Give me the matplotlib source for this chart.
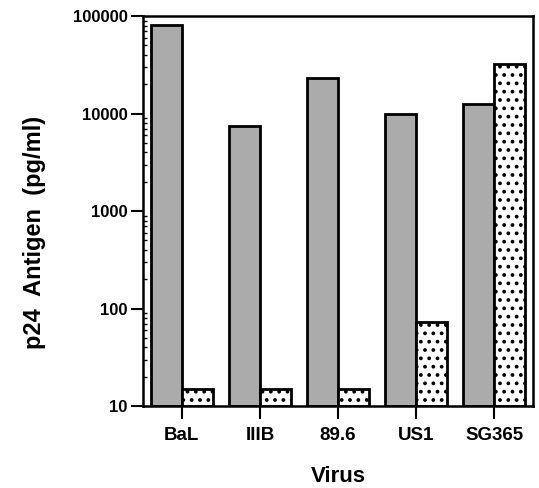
import matplotlib
matplotlib.use('Agg')
import matplotlib.pyplot as plt
import numpy as np
from matplotlib.ticker import LogLocator, NullFormatter

plt.rcParams['font.family'] = ['Liberation Sans', 'DejaVu Sans']
plt.rcParams['font.weight'] = 'bold'
plt.rcParams['axes.labelweight'] = 'bold'
plt.rcParams['hatch.linewidth'] = 1.5

# data
viruses = ['BaL', 'IIIB', '89.6', 'US1', 'SG365']
gray_vals = [82000, 7500, 23000, 9800, 12500]
dot_vals = [15, 15, 15, 73, 32000]

fig = plt.figure(figsize=(5.39, 4.88), dpi=100)
ax = fig.add_axes([0.265, 0.168, 0.724, 0.799])

x = np.arange(len(viruses))
w = 0.4
ax.bar(x - w / 2, gray_vals, width=w, bottom=10, color='#ababab',
       edgecolor='black', linewidth=2, zorder=2)
ax.bar(x + w / 2, np.array(dot_vals) - 10, width=w, bottom=10, color='white',
       edgecolor='black', linewidth=2, hatch='..', zorder=2)

ax.set_yscale('log')
ax.set_ylim(10, 100000)
ax.set_xlim(-0.5, 4.5)
ax.set_yticks([10, 100, 1000, 10000, 100000])
ax.set_yticklabels(['10', '100', '1000', '10000', '100000'])
ax.yaxis.set_minor_locator(LogLocator(base=10, subs=np.arange(2, 10)))
ax.yaxis.set_minor_formatter(NullFormatter())
ax.set_xticks(x)
ax.set_xticklabels(viruses)

ax.tick_params(axis='y', which='major', direction='out', length=9, width=1.5,
               labelsize=12, pad=2)
ax.tick_params(axis='y', which='minor', direction='in', length=3, width=1)
ax.tick_params(axis='x', direction='out', length=9, width=1.5, labelsize=13.5, pad=6)
for s in ax.spines.values():
    s.set_linewidth(1.8)

ax.set_xlabel('Virus', fontsize=16, labelpad=16)
fig.text(35 / 539, 1 - 232 / 488, 'p24  Antigen  (pg/ml)', rotation=90,
         fontsize=17, fontweight='bold', ha='center', va='center')

plt.savefig('out.png', dpi=100, facecolor='white')
